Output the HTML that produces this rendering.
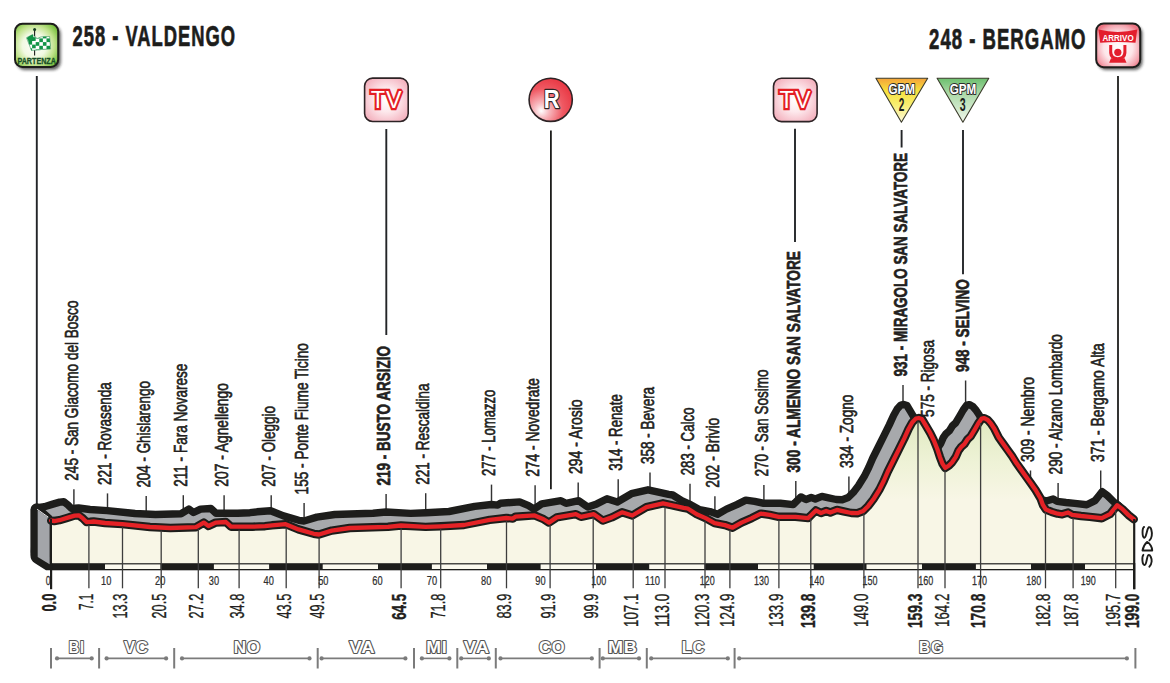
<!DOCTYPE html><html><head><meta charset="utf-8"><style>html,body{margin:0;padding:0;background:#fff;width:1170px;height:683px;overflow:hidden}svg{display:block}text{font-family:"Liberation Sans",sans-serif}</style></head><body>
<svg width="1170" height="683" viewBox="0 0 1170 683">
<defs><linearGradient id="frontg" gradientUnits="userSpaceOnUse" x1="0" y1="415" x2="0" y2="500"><stop offset="0" stop-color="#dfe9bf"/><stop offset="0.55" stop-color="#eef2d6"/><stop offset="1" stop-color="#f8f6e6"/></linearGradient><radialGradient id="greeng" cx="0.45" cy="0.5" r="0.62"><stop offset="0" stop-color="#ffffff"/><stop offset="0.45" stop-color="#f1f9e2"/><stop offset="0.75" stop-color="#bfe28a"/><stop offset="1" stop-color="#7cc242"/></radialGradient><radialGradient id="redbox" cx="0.5" cy="0.55" r="0.6"><stop offset="0" stop-color="#ffffff"/><stop offset="0.55" stop-color="#fde6e9"/><stop offset="0.85" stop-color="#f4a5b0"/><stop offset="1" stop-color="#ec7583"/></radialGradient><radialGradient id="tvg" cx="0.5" cy="0.5" r="0.62"><stop offset="0" stop-color="#ffffff"/><stop offset="0.45" stop-color="#fde8ec"/><stop offset="1" stop-color="#f3aebb"/></radialGradient><radialGradient id="rg" cx="0.32" cy="0.7" r="0.8" fx="0.28" fy="0.76"><stop offset="0" stop-color="#ffffff"/><stop offset="0.22" stop-color="#f8b9bf"/><stop offset="0.6" stop-color="#ef5963"/><stop offset="1" stop-color="#e8323e"/></radialGradient><linearGradient id="gpm2" x1="0" y1="0" x2="0" y2="1"><stop offset="0" stop-color="#f4a23a"/><stop offset="0.28" stop-color="#f6e03c"/><stop offset="0.6" stop-color="#f8ee70"/><stop offset="1" stop-color="#fcf8da"/></linearGradient><linearGradient id="gpm3" x1="0" y1="0" x2="0" y2="1"><stop offset="0" stop-color="#6cbf6e"/><stop offset="0.35" stop-color="#acd9a8"/><stop offset="1" stop-color="#f0f7ec"/></linearGradient><filter id="shd" x="-30%" y="-30%" width="160%" height="160%"><feGaussianBlur stdDeviation="1.6"/></filter></defs>
<text transform="translate(72.50,45.90) scale(0.6167,1)" font-size="29.8" font-weight="bold" fill="#1d1d1b" letter-spacing="1.6" stroke="#1d1d1b" stroke-width="0.7" stroke-linejoin="round">258 - VALDENGO</text>
<text transform="translate(929.10,48.90) scale(0.6231,1)" font-size="29.8" font-weight="bold" fill="#1d1d1b" letter-spacing="1.6" stroke="#1d1d1b" stroke-width="0.7" stroke-linejoin="round">248 - BERGAMO</text>
<line x1="36.8" y1="76" x2="36.8" y2="506" stroke="#232528" stroke-width="1.9"/>
<line x1="386.3" y1="129" x2="386.3" y2="335" stroke="#232528" stroke-width="1.9"/>
<line x1="550.9" y1="130.5" x2="550.9" y2="489.2" stroke="#1d1d1b" stroke-width="1.8"/>
<line x1="795.0" y1="128.7" x2="795.0" y2="242" stroke="#232528" stroke-width="1.9"/>
<line x1="901.6" y1="130" x2="901.6" y2="147.5" stroke="#232528" stroke-width="1.9"/>
<line x1="963.0" y1="130" x2="963.0" y2="274.2" stroke="#232528" stroke-width="1.9"/>
<line x1="1118.0" y1="76" x2="1118.0" y2="503" stroke="#1d1d1b" stroke-width="1.8"/>
<text transform="translate(77.50,480.70) rotate(-90) scale(0.7372,1)" font-size="18.4" font-weight="normal" fill="#231f20" stroke="#231f20" stroke-width="0.65">245 - San Giacomo del Bosco</text>
<line x1="73.9" y1="489.2" x2="73.9" y2="520.7" stroke="#333333" stroke-width="1.45"/>
<text transform="translate(111.10,484.90) rotate(-90) scale(0.7335,1)" font-size="18.4" font-weight="normal" fill="#231f20" stroke="#231f20" stroke-width="0.65">221 - Rovasenda</text>
<line x1="107.5" y1="493.4" x2="107.5" y2="524.9" stroke="#333333" stroke-width="1.45"/>
<text transform="translate(149.80,487.60) rotate(-90) scale(0.7288,1)" font-size="18.4" font-weight="normal" fill="#231f20" stroke="#231f20" stroke-width="0.65">204 - Ghislarengo</text>
<line x1="146.2" y1="496.1" x2="146.2" y2="527.6" stroke="#333333" stroke-width="1.45"/>
<text transform="translate(186.90,486.70) rotate(-90) scale(0.7354,1)" font-size="18.4" font-weight="normal" fill="#231f20" stroke="#231f20" stroke-width="0.65">211 - Fara Novarese</text>
<line x1="183.3" y1="495.2" x2="183.3" y2="526.7" stroke="#333333" stroke-width="1.45"/>
<text transform="translate(227.70,486.70) rotate(-90) scale(0.7501,1)" font-size="18.4" font-weight="normal" fill="#231f20" stroke="#231f20" stroke-width="0.65">207 - Agnellengo</text>
<line x1="224.1" y1="495.2" x2="224.1" y2="526.7" stroke="#333333" stroke-width="1.45"/>
<text transform="translate(274.80,486.70) rotate(-90) scale(0.7305,1)" font-size="18.4" font-weight="normal" fill="#231f20" stroke="#231f20" stroke-width="0.65">207 - Oleggio</text>
<line x1="271.2" y1="495.2" x2="271.2" y2="526.7" stroke="#333333" stroke-width="1.45"/>
<text transform="translate(307.70,494.40) rotate(-90) scale(0.7397,1)" font-size="18.4" font-weight="normal" fill="#231f20" stroke="#231f20" stroke-width="0.65">155 - Ponte Fiume Ticino</text>
<line x1="304.1" y1="502.9" x2="304.1" y2="534.4" stroke="#333333" stroke-width="1.45"/>
<text transform="translate(389.80,485.40) rotate(-90) scale(0.7175,1)" font-size="18.8" font-weight="bold" fill="#231f20" stroke="#231f20" stroke-width="0.65">219 - BUSTO ARSIZIO</text>
<line x1="386.1" y1="493.9" x2="386.1" y2="525.4" stroke="#333333" stroke-width="1.45"/>
<text transform="translate(429.30,484.70) rotate(-90) scale(0.7328,1)" font-size="18.4" font-weight="normal" fill="#231f20" stroke="#231f20" stroke-width="0.65">221 - Rescaldina</text>
<line x1="425.7" y1="493.2" x2="425.7" y2="524.7" stroke="#333333" stroke-width="1.45"/>
<text transform="translate(495.10,476.10) rotate(-90) scale(0.7098,1)" font-size="18.4" font-weight="normal" fill="#231f20" stroke="#231f20" stroke-width="0.65">277 - Lomazzo</text>
<line x1="491.5" y1="484.6" x2="491.5" y2="516.1" stroke="#333333" stroke-width="1.45"/>
<text transform="translate(538.70,476.70) rotate(-90) scale(0.7480,1)" font-size="18.4" font-weight="normal" fill="#231f20" stroke="#231f20" stroke-width="0.65">274 - Novedrate</text>
<line x1="535.1" y1="485.2" x2="535.1" y2="516.7" stroke="#333333" stroke-width="1.45"/>
<text transform="translate(581.80,474.00) rotate(-90) scale(0.7608,1)" font-size="18.4" font-weight="normal" fill="#231f20" stroke="#231f20" stroke-width="0.65">294 - Arosio</text>
<line x1="578.2" y1="482.5" x2="578.2" y2="514.0" stroke="#333333" stroke-width="1.45"/>
<text transform="translate(621.80,470.80) rotate(-90) scale(0.7209,1)" font-size="18.4" font-weight="normal" fill="#231f20" stroke="#231f20" stroke-width="0.65">314 - Renate</text>
<line x1="618.2" y1="479.3" x2="618.2" y2="510.8" stroke="#333333" stroke-width="1.45"/>
<text transform="translate(653.60,464.00) rotate(-90) scale(0.7318,1)" font-size="18.4" font-weight="normal" fill="#231f20" stroke="#231f20" stroke-width="0.65">358 - Bevera</text>
<line x1="650.0" y1="472.5" x2="650.0" y2="504.0" stroke="#333333" stroke-width="1.45"/>
<text transform="translate(693.60,475.30) rotate(-90) scale(0.7216,1)" font-size="18.4" font-weight="normal" fill="#231f20" stroke="#231f20" stroke-width="0.65">283 - Calco</text>
<line x1="690.0" y1="483.8" x2="690.0" y2="515.3" stroke="#333333" stroke-width="1.45"/>
<text transform="translate(718.50,487.80) rotate(-90) scale(0.7532,1)" font-size="18.4" font-weight="normal" fill="#231f20" stroke="#231f20" stroke-width="0.65">202 - Brivio</text>
<line x1="714.9" y1="496.3" x2="714.9" y2="527.8" stroke="#333333" stroke-width="1.45"/>
<text transform="translate(767.50,476.60) rotate(-90) scale(0.7316,1)" font-size="18.4" font-weight="normal" fill="#231f20" stroke="#231f20" stroke-width="0.65">270 - San Sosimo</text>
<line x1="763.9" y1="485.1" x2="763.9" y2="516.6" stroke="#333333" stroke-width="1.45"/>
<text transform="translate(799.50,472.50) rotate(-90) scale(0.7290,1)" font-size="18.8" font-weight="bold" fill="#231f20" stroke="#231f20" stroke-width="0.65">300 - ALMENNO SAN SALVATORE</text>
<line x1="795.8" y1="481.0" x2="795.8" y2="512.5" stroke="#333333" stroke-width="1.45"/>
<text transform="translate(852.50,468.10) rotate(-90) scale(0.7407,1)" font-size="18.4" font-weight="normal" fill="#231f20" stroke="#231f20" stroke-width="0.65">334 - Zogno</text>
<line x1="848.9" y1="476.6" x2="848.9" y2="508.1" stroke="#333333" stroke-width="1.45"/>
<text transform="translate(906.70,376.40) rotate(-90) scale(0.7137,1)" font-size="18.8" font-weight="bold" fill="#231f20" stroke="#231f20" stroke-width="0.65">931 - MIRAGOLO SAN SALVATORE</text>
<line x1="903.0" y1="384.9" x2="903.0" y2="416.4" stroke="#333333" stroke-width="1.45"/>
<text transform="translate(933.60,416.90) rotate(-90) scale(0.7370,1)" font-size="18.4" font-weight="normal" fill="#231f20" stroke="#231f20" stroke-width="0.65">575 - Rigosa</text>
<text transform="translate(969.30,372.00) rotate(-90) scale(0.7174,1)" font-size="18.8" font-weight="bold" fill="#231f20" stroke="#231f20" stroke-width="0.65">948 - SELVINO</text>
<line x1="965.6" y1="380.5" x2="965.6" y2="412.0" stroke="#333333" stroke-width="1.45"/>
<text transform="translate(1034.10,462.00) rotate(-90) scale(0.7556,1)" font-size="18.4" font-weight="normal" fill="#231f20" stroke="#231f20" stroke-width="0.65">309 - Nembro</text>
<line x1="1030.5" y1="470.5" x2="1030.5" y2="502.0" stroke="#333333" stroke-width="1.45"/>
<text transform="translate(1061.70,474.40) rotate(-90) scale(0.7380,1)" font-size="18.4" font-weight="normal" fill="#231f20" stroke="#231f20" stroke-width="0.65">290 - Alzano Lombardo</text>
<line x1="1058.1" y1="482.9" x2="1058.1" y2="514.4" stroke="#333333" stroke-width="1.45"/>
<text transform="translate(1104.30,462.00) rotate(-90) scale(0.7542,1)" font-size="18.4" font-weight="normal" fill="#231f20" stroke="#231f20" stroke-width="0.65">371 - Bergamo Alta</text>
<line x1="1100.7" y1="470.5" x2="1100.7" y2="502.0" stroke="#333333" stroke-width="1.45"/>
<polygon points="36.2,507.1 39.2,507.5 44.4,506.7 52.0,504.4 59.7,502.1 63.8,501.8 67.9,504.9 71.5,508.5 75.1,508.3 78.6,508.0 90.0,509.5 107.3,510.6 135.0,513.5 155.5,514.5 181.0,513.7 188.8,509.1 193.5,512.5 200.6,509.1 210.9,508.5 216.0,513.2 237.6,513.2 250.0,512.7 257.0,511.8 270.6,510.7 283.5,515.9 298.8,520.3 304.0,521.0 316.8,517.1 334.7,514.5 373.0,513.3 386.0,512.0 410.6,513.4 426.0,512.8 449.0,511.5 474.7,506.4 491.4,504.5 497.8,505.1 500.4,503.2 519.6,501.9 528.6,505.7 534.0,509.1 541.7,503.9 560.9,500.7 566.0,503.3 578.8,500.7 587.8,507.1 596.8,503.9 607.0,498.8 617.3,502.0 631.4,493.7 648.0,489.8 659.6,492.4 668.6,494.3 672.7,495.0 681.7,500.7 690.6,504.6 699.6,509.7 709.9,511.6 717.6,514.2 726.5,509.1 736.8,504.6 745.8,500.1 754.7,501.4 763.7,503.3 780.4,503.3 793.2,504.6 800.9,496.9 806.0,499.5 811.2,497.5 815.3,499.0 821.9,496.4 828.6,497.9 836.3,499.5 842.3,499.7 848.2,497.5 853.3,492.4 858.4,485.8 864.3,476.3 868.7,467.5 872.8,458.0 878.8,446.0 884.1,435.4 889.3,424.9 893.7,415.2 897.2,409.0 900.8,405.1 903.8,404.5 906.9,405.5 910.6,411.7 915.3,419.7 918.8,426.7 922.3,435.5 924.9,443.4 927.6,450.4 930.2,454.4 933.7,452.2 937.2,448.7 940.8,443.4 943.4,437.3 946.0,433.7 949.4,430.7 952.5,425.8 955.8,422.7 959.7,416.1 963.2,410.0 966.7,405.1 969.3,404.6 972.8,406.5 975.9,410.0 979.4,415.3 983.8,424.1 988.2,430.2 992.6,436.4 997.0,442.5 1001.4,449.6 1005.8,455.7 1010.2,461.9 1015.5,469.3 1020.6,476.5 1025.6,485.0 1027.9,491.4 1030.9,496.1 1036.7,498.4 1042.6,500.2 1047.2,500.8 1053.1,499.0 1057.2,501.4 1066.0,502.5 1074.8,503.4 1086.8,504.7 1095.0,500.6 1099.1,495.5 1102.2,491.7 1107.3,495.5 1113.5,501.6 1118.8,505.7 1118.8,552.0 34.5,552.0" fill="#a7a9ac" stroke="#1d1d1b" stroke-width="7.4" stroke-linejoin="round"/>
<path d="M38,503.4 Q30.4,503.4 30.4,510 L30.4,555 Q30.4,560.5 35,563.2 L46,570.3 L52,570.3 L52,516 Z" fill="#1d1d1b"/>
<polygon points="37.7,510.2 49.6,518.6 49.6,564.2 37.7,557" fill="#a3a5a9"/>
<line x1="37.2" y1="509.3" x2="48.5" y2="517.3" stroke="#e8e8ea" stroke-width="1"/>
<polygon points="51.2,520.6 54.2,521.0 59.4,520.2 67.0,517.9 74.7,515.6 78.8,515.3 82.9,518.4 86.5,522.0 90.1,521.8 93.6,521.5 105.0,523.0 122.3,524.1 150.0,527.0 170.5,528.0 196.0,527.2 203.8,522.6 208.5,526.0 215.6,522.6 225.9,522.0 231.0,526.7 252.6,526.7 265.0,526.2 272.0,525.3 285.6,524.2 298.5,529.4 313.8,533.8 319.0,534.5 331.8,530.6 349.7,528.0 388.0,526.8 401.0,525.5 425.6,526.9 441.0,526.3 464.0,525.0 489.7,519.9 506.4,518.0 512.8,518.6 515.4,516.7 534.6,515.4 543.6,519.2 549.0,522.6 556.7,517.4 575.9,514.2 581.0,516.8 593.8,514.2 602.8,520.6 611.8,517.4 622.0,512.3 632.3,515.5 646.4,507.2 663.0,503.3 674.6,505.9 683.6,507.8 687.7,508.5 696.7,514.2 705.6,518.1 714.6,523.2 724.9,525.1 732.6,527.7 741.5,522.6 751.8,518.1 760.8,513.6 769.7,514.9 778.7,516.8 795.4,516.8 808.2,518.1 815.9,510.4 821.0,513.0 826.2,511.0 830.3,512.5 836.9,509.9 843.6,511.4 851.3,513.0 857.3,513.2 863.2,511.0 868.3,505.9 873.4,499.3 879.3,489.8 883.7,481.0 887.8,471.5 893.8,459.5 899.1,448.9 904.3,438.4 908.7,428.7 912.2,422.5 915.8,418.6 918.8,418.0 921.9,419.0 925.6,425.2 930.3,433.2 933.8,440.2 937.3,449.0 939.9,456.9 942.6,463.9 945.2,467.9 948.7,465.7 952.2,462.2 955.8,456.9 958.4,450.8 961.0,447.2 964.4,444.2 967.5,439.3 970.8,436.2 974.7,429.6 978.2,423.5 981.7,418.6 984.3,418.1 987.8,420.0 990.9,423.5 994.4,428.8 998.8,437.6 1003.2,443.7 1007.6,449.9 1012.0,456.0 1016.4,463.1 1020.8,469.2 1025.2,475.4 1030.5,482.8 1035.6,490.0 1040.6,498.5 1042.9,504.9 1045.9,509.6 1051.7,511.9 1057.6,513.7 1062.2,514.3 1068.1,512.5 1072.2,514.9 1081.0,516.0 1089.8,516.9 1101.8,518.2 1110.0,514.1 1114.1,509.0 1117.2,505.2 1122.3,509.0 1128.5,515.1 1133.8,519.2 1133.8,563.5 50.5,563.5" fill="url(#frontg)"/>
<polyline points="51.2,520.6 54.2,521.0 59.4,520.2 67.0,517.9 74.7,515.6 78.8,515.3 82.9,518.4 86.5,522.0 90.1,521.8 93.6,521.5 105.0,523.0 122.3,524.1 150.0,527.0 170.5,528.0 196.0,527.2 203.8,522.6 208.5,526.0 215.6,522.6 225.9,522.0 231.0,526.7 252.6,526.7 265.0,526.2 272.0,525.3 285.6,524.2 298.5,529.4 313.8,533.8 319.0,534.5 331.8,530.6 349.7,528.0 388.0,526.8 401.0,525.5 425.6,526.9 441.0,526.3 464.0,525.0 489.7,519.9 506.4,518.0 512.8,518.6 515.4,516.7 534.6,515.4 543.6,519.2 549.0,522.6 556.7,517.4 575.9,514.2 581.0,516.8 593.8,514.2 602.8,520.6 611.8,517.4 622.0,512.3 632.3,515.5 646.4,507.2 663.0,503.3 674.6,505.9 683.6,507.8 687.7,508.5 696.7,514.2 705.6,518.1 714.6,523.2 724.9,525.1 732.6,527.7 741.5,522.6 751.8,518.1 760.8,513.6 769.7,514.9 778.7,516.8 795.4,516.8 808.2,518.1 815.9,510.4 821.0,513.0 826.2,511.0 830.3,512.5 836.9,509.9 843.6,511.4 851.3,513.0 857.3,513.2 863.2,511.0 868.3,505.9 873.4,499.3 879.3,489.8 883.7,481.0 887.8,471.5 893.8,459.5 899.1,448.9 904.3,438.4 908.7,428.7 912.2,422.5 915.8,418.6 918.8,418.0 921.9,419.0 925.6,425.2 930.3,433.2 933.8,440.2 937.3,449.0 939.9,456.9 942.6,463.9 945.2,467.9 948.7,465.7 952.2,462.2 955.8,456.9 958.4,450.8 961.0,447.2 964.4,444.2 967.5,439.3 970.8,436.2 974.7,429.6 978.2,423.5 981.7,418.6 984.3,418.1 987.8,420.0 990.9,423.5 994.4,428.8 998.8,437.6 1003.2,443.7 1007.6,449.9 1012.0,456.0 1016.4,463.1 1020.8,469.2 1025.2,475.4 1030.5,482.8 1035.6,490.0 1040.6,498.5 1042.9,504.9 1045.9,509.6 1051.7,511.9 1057.6,513.7 1062.2,514.3 1068.1,512.5 1072.2,514.9 1081.0,516.0 1089.8,516.9 1101.8,518.2 1110.0,514.1 1114.1,509.0 1117.2,505.2 1122.3,509.0 1128.5,515.1 1133.8,519.2" fill="none" stroke="#1d1d1b" stroke-width="8.4" stroke-linejoin="round" stroke-linecap="round"/>
<polyline points="51.2,520.6 54.2,521.0 59.4,520.2 67.0,517.9 74.7,515.6 78.8,515.3 82.9,518.4 86.5,522.0 90.1,521.8 93.6,521.5 105.0,523.0 122.3,524.1 150.0,527.0 170.5,528.0 196.0,527.2 203.8,522.6 208.5,526.0 215.6,522.6 225.9,522.0 231.0,526.7 252.6,526.7 265.0,526.2 272.0,525.3 285.6,524.2 298.5,529.4 313.8,533.8 319.0,534.5 331.8,530.6 349.7,528.0 388.0,526.8 401.0,525.5 425.6,526.9 441.0,526.3 464.0,525.0 489.7,519.9 506.4,518.0 512.8,518.6 515.4,516.7 534.6,515.4 543.6,519.2 549.0,522.6 556.7,517.4 575.9,514.2 581.0,516.8 593.8,514.2 602.8,520.6 611.8,517.4 622.0,512.3 632.3,515.5 646.4,507.2 663.0,503.3 674.6,505.9 683.6,507.8 687.7,508.5 696.7,514.2 705.6,518.1 714.6,523.2 724.9,525.1 732.6,527.7 741.5,522.6 751.8,518.1 760.8,513.6 769.7,514.9 778.7,516.8 795.4,516.8 808.2,518.1 815.9,510.4 821.0,513.0 826.2,511.0 830.3,512.5 836.9,509.9 843.6,511.4 851.3,513.0 857.3,513.2 863.2,511.0 868.3,505.9 873.4,499.3 879.3,489.8 883.7,481.0 887.8,471.5 893.8,459.5 899.1,448.9 904.3,438.4 908.7,428.7 912.2,422.5 915.8,418.6 918.8,418.0 921.9,419.0 925.6,425.2 930.3,433.2 933.8,440.2 937.3,449.0 939.9,456.9 942.6,463.9 945.2,467.9 948.7,465.7 952.2,462.2 955.8,456.9 958.4,450.8 961.0,447.2 964.4,444.2 967.5,439.3 970.8,436.2 974.7,429.6 978.2,423.5 981.7,418.6 984.3,418.1 987.8,420.0 990.9,423.5 994.4,428.8 998.8,437.6 1003.2,443.7 1007.6,449.9 1012.0,456.0 1016.4,463.1 1020.8,469.2 1025.2,475.4 1030.5,482.8 1035.6,490.0 1040.6,498.5 1042.9,504.9 1045.9,509.6 1051.7,511.9 1057.6,513.7 1062.2,514.3 1068.1,512.5 1072.2,514.9 1081.0,516.0 1089.8,516.9 1101.8,518.2 1110.0,514.1 1114.1,509.0 1117.2,505.2 1122.3,509.0 1128.5,515.1 1133.8,519.2" fill="none" stroke="#e42226" stroke-width="4.3" stroke-linejoin="round" stroke-linecap="round"/>
<line x1="51" y1="519" x2="51" y2="570" stroke="#1d1d1b" stroke-width="2"/>
<rect x="50" y="563.2" width="1084.2" height="7.1" fill="#1d1d1b"/>
<rect x="105.0" y="564.4" width="55.5" height="4.6" fill="#fbf9ee"/>
<rect x="213.9" y="564.4" width="55.2" height="4.6" fill="#fbf9ee"/>
<rect x="322.7" y="564.4" width="55.3" height="4.6" fill="#fbf9ee"/>
<rect x="431.9" y="564.4" width="55.1" height="4.6" fill="#fbf9ee"/>
<rect x="540.6" y="564.4" width="55.4" height="4.6" fill="#fbf9ee"/>
<rect x="649.2" y="564.4" width="55.3" height="4.6" fill="#fbf9ee"/>
<rect x="758.0" y="564.4" width="55.7" height="4.6" fill="#fbf9ee"/>
<rect x="866.5" y="564.4" width="55.5" height="4.6" fill="#fbf9ee"/>
<rect x="975.9" y="564.4" width="55.1" height="4.6" fill="#fbf9ee"/>
<rect x="1085.0" y="564.4" width="48.0" height="4.6" fill="#fbf9ee"/>
<line x1="88.9" y1="524.9" x2="88.9" y2="588.3" stroke="#3d3d3d" stroke-width="1.3"/>
<line x1="122.5" y1="527.1" x2="122.5" y2="588.3" stroke="#3d3d3d" stroke-width="1.3"/>
<line x1="161.2" y1="530.5" x2="161.2" y2="588.3" stroke="#3d3d3d" stroke-width="1.3"/>
<line x1="198.3" y1="528.8" x2="198.3" y2="588.3" stroke="#3d3d3d" stroke-width="1.3"/>
<line x1="239.1" y1="529.7" x2="239.1" y2="588.3" stroke="#3d3d3d" stroke-width="1.3"/>
<line x1="286.2" y1="527.4" x2="286.2" y2="588.3" stroke="#3d3d3d" stroke-width="1.3"/>
<line x1="319.1" y1="537.5" x2="319.1" y2="588.3" stroke="#3d3d3d" stroke-width="1.3"/>
<line x1="401.1" y1="528.5" x2="401.1" y2="588.3" stroke="#3d3d3d" stroke-width="1.3"/>
<line x1="440.7" y1="529.3" x2="440.7" y2="588.3" stroke="#3d3d3d" stroke-width="1.3"/>
<line x1="506.5" y1="521.0" x2="506.5" y2="588.3" stroke="#3d3d3d" stroke-width="1.3"/>
<line x1="550.1" y1="524.9" x2="550.1" y2="588.3" stroke="#3d3d3d" stroke-width="1.3"/>
<line x1="593.2" y1="517.3" x2="593.2" y2="588.3" stroke="#3d3d3d" stroke-width="1.3"/>
<line x1="633.2" y1="518.0" x2="633.2" y2="588.3" stroke="#3d3d3d" stroke-width="1.3"/>
<line x1="665.0" y1="506.7" x2="665.0" y2="588.3" stroke="#3d3d3d" stroke-width="1.3"/>
<line x1="705.0" y1="520.8" x2="705.0" y2="588.3" stroke="#3d3d3d" stroke-width="1.3"/>
<line x1="729.9" y1="529.8" x2="729.9" y2="588.3" stroke="#3d3d3d" stroke-width="1.3"/>
<line x1="778.9" y1="519.8" x2="778.9" y2="588.3" stroke="#3d3d3d" stroke-width="1.3"/>
<line x1="810.8" y1="518.5" x2="810.8" y2="588.3" stroke="#3d3d3d" stroke-width="1.3"/>
<line x1="863.9" y1="513.3" x2="863.9" y2="588.3" stroke="#3d3d3d" stroke-width="1.3"/>
<line x1="918.0" y1="421.2" x2="918.0" y2="588.3" stroke="#3d3d3d" stroke-width="1.3"/>
<line x1="945.0" y1="470.6" x2="945.0" y2="588.3" stroke="#3d3d3d" stroke-width="1.3"/>
<line x1="980.6" y1="423.1" x2="980.6" y2="588.3" stroke="#3d3d3d" stroke-width="1.3"/>
<line x1="1045.5" y1="512.0" x2="1045.5" y2="588.3" stroke="#3d3d3d" stroke-width="1.3"/>
<line x1="1073.1" y1="518.0" x2="1073.1" y2="588.3" stroke="#3d3d3d" stroke-width="1.3"/>
<line x1="1115.7" y1="510.0" x2="1115.7" y2="588.3" stroke="#3d3d3d" stroke-width="1.3"/>
<text transform="translate(45.80,584.90) scale(0.6540,1)" font-size="13.2" font-weight="normal" fill="#2e2e2e" stroke="#2e2e2e" stroke-width="0.25">0</text>
<text transform="translate(101.10,584.90) scale(0.7017,1)" font-size="13.2" font-weight="normal" fill="#2e2e2e" stroke="#2e2e2e" stroke-width="0.25">10</text>
<text transform="translate(155.00,584.90) scale(0.7017,1)" font-size="13.2" font-weight="normal" fill="#2e2e2e" stroke="#2e2e2e" stroke-width="0.25">20</text>
<text transform="translate(208.80,584.90) scale(0.7017,1)" font-size="13.2" font-weight="normal" fill="#2e2e2e" stroke="#2e2e2e" stroke-width="0.25">30</text>
<text transform="translate(263.50,584.90) scale(0.7017,1)" font-size="13.2" font-weight="normal" fill="#2e2e2e" stroke="#2e2e2e" stroke-width="0.25">40</text>
<text transform="translate(318.20,584.90) scale(0.7017,1)" font-size="13.2" font-weight="normal" fill="#2e2e2e" stroke="#2e2e2e" stroke-width="0.25">50</text>
<text transform="translate(372.30,584.90) scale(0.7017,1)" font-size="13.2" font-weight="normal" fill="#2e2e2e" stroke="#2e2e2e" stroke-width="0.25">60</text>
<text transform="translate(426.80,584.90) scale(0.7017,1)" font-size="13.2" font-weight="normal" fill="#2e2e2e" stroke="#2e2e2e" stroke-width="0.25">70</text>
<text transform="translate(481.00,584.90) scale(0.7017,1)" font-size="13.2" font-weight="normal" fill="#2e2e2e" stroke="#2e2e2e" stroke-width="0.25">80</text>
<text transform="translate(535.30,584.90) scale(0.7017,1)" font-size="13.2" font-weight="normal" fill="#2e2e2e" stroke="#2e2e2e" stroke-width="0.25">90</text>
<text transform="translate(591.30,584.90) scale(0.6813,1)" font-size="13.2" font-weight="normal" fill="#2e2e2e" stroke="#2e2e2e" stroke-width="0.25">100</text>
<text transform="translate(645.10,584.90) scale(0.7129,1)" font-size="13.2" font-weight="normal" fill="#2e2e2e" stroke="#2e2e2e" stroke-width="0.25">110</text>
<text transform="translate(699.80,584.90) scale(0.6813,1)" font-size="13.2" font-weight="normal" fill="#2e2e2e" stroke="#2e2e2e" stroke-width="0.25">120</text>
<text transform="translate(754.10,584.90) scale(0.6813,1)" font-size="13.2" font-weight="normal" fill="#2e2e2e" stroke="#2e2e2e" stroke-width="0.25">130</text>
<text transform="translate(809.20,584.90) scale(0.6813,1)" font-size="13.2" font-weight="normal" fill="#2e2e2e" stroke="#2e2e2e" stroke-width="0.25">140</text>
<text transform="translate(862.60,584.90) scale(0.6813,1)" font-size="13.2" font-weight="normal" fill="#2e2e2e" stroke="#2e2e2e" stroke-width="0.25">150</text>
<text transform="translate(918.20,584.90) scale(0.6813,1)" font-size="13.2" font-weight="normal" fill="#2e2e2e" stroke="#2e2e2e" stroke-width="0.25">160</text>
<text transform="translate(972.00,584.90) scale(0.6813,1)" font-size="13.2" font-weight="normal" fill="#2e2e2e" stroke="#2e2e2e" stroke-width="0.25">170</text>
<text transform="translate(1026.30,584.90) scale(0.6813,1)" font-size="13.2" font-weight="normal" fill="#2e2e2e" stroke="#2e2e2e" stroke-width="0.25">180</text>
<text transform="translate(1080.80,584.90) scale(0.6813,1)" font-size="13.2" font-weight="normal" fill="#2e2e2e" stroke="#2e2e2e" stroke-width="0.25">190</text>
<line x1="51.1" y1="563" x2="51.1" y2="589.2" stroke="#1d1d1b" stroke-width="2.2"/>
<text transform="translate(55.50,611.60) rotate(-90) scale(0.6504,1)" font-size="19.8" font-weight="bold" fill="#231f20" stroke="#231f20" stroke-width="0.35">0.0</text>
<text transform="translate(93.30,610.10) rotate(-90) scale(0.5959,1)" font-size="19.8" font-weight="normal" fill="#231f20" stroke="#231f20" stroke-width="0.35">7.1</text>
<text transform="translate(126.90,618.55) rotate(-90) scale(0.6449,1)" font-size="19.8" font-weight="normal" fill="#231f20" stroke="#231f20" stroke-width="0.35">13.3</text>
<text transform="translate(165.60,618.55) rotate(-90) scale(0.6449,1)" font-size="19.8" font-weight="normal" fill="#231f20" stroke="#231f20" stroke-width="0.35">20.5</text>
<text transform="translate(202.70,618.55) rotate(-90) scale(0.6449,1)" font-size="19.8" font-weight="normal" fill="#231f20" stroke="#231f20" stroke-width="0.35">27.2</text>
<text transform="translate(243.50,618.55) rotate(-90) scale(0.6449,1)" font-size="19.8" font-weight="normal" fill="#231f20" stroke="#231f20" stroke-width="0.35">34.8</text>
<text transform="translate(290.60,618.55) rotate(-90) scale(0.6449,1)" font-size="19.8" font-weight="normal" fill="#231f20" stroke="#231f20" stroke-width="0.35">43.5</text>
<text transform="translate(323.50,618.55) rotate(-90) scale(0.6449,1)" font-size="19.8" font-weight="normal" fill="#231f20" stroke="#231f20" stroke-width="0.35">49.5</text>
<text transform="translate(405.50,619.85) rotate(-90) scale(0.6787,1)" font-size="19.8" font-weight="bold" fill="#231f20" stroke="#231f20" stroke-width="0.35">64.5</text>
<text transform="translate(445.10,618.55) rotate(-90) scale(0.6449,1)" font-size="19.8" font-weight="normal" fill="#231f20" stroke="#231f20" stroke-width="0.35">71.8</text>
<text transform="translate(510.90,618.55) rotate(-90) scale(0.6449,1)" font-size="19.8" font-weight="normal" fill="#231f20" stroke="#231f20" stroke-width="0.35">83.9</text>
<text transform="translate(554.50,618.55) rotate(-90) scale(0.6449,1)" font-size="19.8" font-weight="normal" fill="#231f20" stroke="#231f20" stroke-width="0.35">91.9</text>
<text transform="translate(597.60,618.55) rotate(-90) scale(0.6449,1)" font-size="19.8" font-weight="normal" fill="#231f20" stroke="#231f20" stroke-width="0.35">99.9</text>
<text transform="translate(637.60,627.00) rotate(-90) scale(0.6722,1)" font-size="19.8" font-weight="normal" fill="#231f20" stroke="#231f20" stroke-width="0.35">107.1</text>
<text transform="translate(669.40,627.00) rotate(-90) scale(0.6927,1)" font-size="19.8" font-weight="normal" fill="#231f20" stroke="#231f20" stroke-width="0.35">113.0</text>
<text transform="translate(709.40,627.00) rotate(-90) scale(0.6722,1)" font-size="19.8" font-weight="normal" fill="#231f20" stroke="#231f20" stroke-width="0.35">120.3</text>
<text transform="translate(734.30,627.00) rotate(-90) scale(0.6722,1)" font-size="19.8" font-weight="normal" fill="#231f20" stroke="#231f20" stroke-width="0.35">124.9</text>
<text transform="translate(783.30,627.00) rotate(-90) scale(0.6722,1)" font-size="19.8" font-weight="normal" fill="#231f20" stroke="#231f20" stroke-width="0.35">133.9</text>
<text transform="translate(815.20,628.10) rotate(-90) scale(0.6944,1)" font-size="19.8" font-weight="bold" fill="#231f20" stroke="#231f20" stroke-width="0.35">139.8</text>
<text transform="translate(868.30,627.00) rotate(-90) scale(0.6722,1)" font-size="19.8" font-weight="normal" fill="#231f20" stroke="#231f20" stroke-width="0.35">149.0</text>
<text transform="translate(922.40,628.10) rotate(-90) scale(0.6944,1)" font-size="19.8" font-weight="bold" fill="#231f20" stroke="#231f20" stroke-width="0.35">159.3</text>
<text transform="translate(949.40,627.00) rotate(-90) scale(0.6722,1)" font-size="19.8" font-weight="normal" fill="#231f20" stroke="#231f20" stroke-width="0.35">164.2</text>
<text transform="translate(985.00,628.10) rotate(-90) scale(0.6944,1)" font-size="19.8" font-weight="bold" fill="#231f20" stroke="#231f20" stroke-width="0.35">170.8</text>
<text transform="translate(1049.90,627.00) rotate(-90) scale(0.6722,1)" font-size="19.8" font-weight="normal" fill="#231f20" stroke="#231f20" stroke-width="0.35">182.8</text>
<text transform="translate(1077.50,627.00) rotate(-90) scale(0.6722,1)" font-size="19.8" font-weight="normal" fill="#231f20" stroke="#231f20" stroke-width="0.35">187.8</text>
<text transform="translate(1120.10,627.00) rotate(-90) scale(0.6722,1)" font-size="19.8" font-weight="normal" fill="#231f20" stroke="#231f20" stroke-width="0.35">195.7</text>
<line x1="1134.2" y1="563" x2="1134.2" y2="589.2" stroke="#1d1d1b" stroke-width="2.2"/>
<text transform="translate(1138.60,628.10) rotate(-90) scale(0.6944,1)" font-size="19.8" font-weight="bold" fill="#231f20" stroke="#231f20" stroke-width="0.35">199.0</text>
<line x1="1134.2" y1="519" x2="1134.2" y2="589.2" stroke="#1d1d1b" stroke-width="2.2"/>
<line x1="51.0" y1="648" x2="51.0" y2="668.5" stroke="#7b7b7b" stroke-width="2"/>
<line x1="57.0" y1="658.4" x2="91.7" y2="658.4" stroke="#7b7b7b" stroke-width="1.6"/>
<circle cx="57.0" cy="658.4" r="2.1" fill="#7b7b7b"/><circle cx="91.7" cy="658.4" r="2.1" fill="#7b7b7b"/>
<text transform="translate(68.80,653.00) scale(0.8539,1)" font-size="17.0" font-weight="bold" fill="#ffffff" letter-spacing="0.8" stroke="#555555" stroke-width="2.2" paint-order="stroke" stroke-linejoin="round">BI</text>
<line x1="99.1" y1="648" x2="99.1" y2="668.5" stroke="#7b7b7b" stroke-width="2"/>
<line x1="106.6" y1="658.4" x2="166.1" y2="658.4" stroke="#7b7b7b" stroke-width="1.6"/>
<circle cx="106.6" cy="658.4" r="2.1" fill="#7b7b7b"/><circle cx="166.1" cy="658.4" r="2.1" fill="#7b7b7b"/>
<text transform="translate(123.90,653.00) scale(0.9872,1)" font-size="17.0" font-weight="bold" fill="#ffffff" letter-spacing="0.8" stroke="#555555" stroke-width="2.2" paint-order="stroke" stroke-linejoin="round">VC</text>
<line x1="174.2" y1="648" x2="174.2" y2="668.5" stroke="#7b7b7b" stroke-width="2"/>
<line x1="182.0" y1="658.4" x2="309.5" y2="658.4" stroke="#7b7b7b" stroke-width="1.6"/>
<circle cx="182.0" cy="658.4" r="2.1" fill="#7b7b7b"/><circle cx="309.5" cy="658.4" r="2.1" fill="#7b7b7b"/>
<text transform="translate(233.70,653.00) scale(1.0076,1)" font-size="17.0" font-weight="bold" fill="#ffffff" letter-spacing="0.8" stroke="#555555" stroke-width="2.2" paint-order="stroke" stroke-linejoin="round">NO</text>
<line x1="317.7" y1="648" x2="317.7" y2="668.5" stroke="#7b7b7b" stroke-width="2"/>
<line x1="321.6" y1="658.4" x2="405.4" y2="658.4" stroke="#7b7b7b" stroke-width="1.6"/>
<circle cx="321.6" cy="658.4" r="2.1" fill="#7b7b7b"/><circle cx="405.4" cy="658.4" r="2.1" fill="#7b7b7b"/>
<text transform="translate(349.30,653.00) scale(1.0883,1)" font-size="17.0" font-weight="bold" fill="#ffffff" letter-spacing="0.8" stroke="#555555" stroke-width="2.2" paint-order="stroke" stroke-linejoin="round">VA</text>
<line x1="414.0" y1="648" x2="414.0" y2="668.5" stroke="#7b7b7b" stroke-width="2"/>
<line x1="421.9" y1="658.4" x2="449.4" y2="658.4" stroke="#7b7b7b" stroke-width="1.6"/>
<circle cx="421.9" cy="658.4" r="2.1" fill="#7b7b7b"/><circle cx="449.4" cy="658.4" r="2.1" fill="#7b7b7b"/>
<text transform="translate(426.20,653.00) scale(1.0464,1)" font-size="17.0" font-weight="bold" fill="#ffffff" letter-spacing="0.8" stroke="#555555" stroke-width="2.2" paint-order="stroke" stroke-linejoin="round">MI</text>
<line x1="457.3" y1="648" x2="457.3" y2="668.5" stroke="#7b7b7b" stroke-width="2"/>
<line x1="461.2" y1="658.4" x2="488.8" y2="658.4" stroke="#7b7b7b" stroke-width="1.6"/>
<circle cx="461.2" cy="658.4" r="2.1" fill="#7b7b7b"/><circle cx="488.8" cy="658.4" r="2.1" fill="#7b7b7b"/>
<text transform="translate(463.80,653.00) scale(1.0883,1)" font-size="17.0" font-weight="bold" fill="#ffffff" letter-spacing="0.8" stroke="#555555" stroke-width="2.2" paint-order="stroke" stroke-linejoin="round">VA</text>
<line x1="495.8" y1="648" x2="495.8" y2="668.5" stroke="#7b7b7b" stroke-width="2"/>
<line x1="500.5" y1="658.4" x2="591.8" y2="658.4" stroke="#7b7b7b" stroke-width="1.6"/>
<circle cx="500.5" cy="658.4" r="2.1" fill="#7b7b7b"/><circle cx="591.8" cy="658.4" r="2.1" fill="#7b7b7b"/>
<text transform="translate(539.10,653.00) scale(0.9734,1)" font-size="17.0" font-weight="bold" fill="#ffffff" letter-spacing="0.8" stroke="#555555" stroke-width="2.2" paint-order="stroke" stroke-linejoin="round">CO</text>
<line x1="599.6" y1="648" x2="599.6" y2="668.5" stroke="#7b7b7b" stroke-width="2"/>
<line x1="602.8" y1="658.4" x2="639.0" y2="658.4" stroke="#7b7b7b" stroke-width="1.6"/>
<circle cx="602.8" cy="658.4" r="2.1" fill="#7b7b7b"/><circle cx="639.0" cy="658.4" r="2.1" fill="#7b7b7b"/>
<text transform="translate(607.90,653.00) scale(1.0648,1)" font-size="17.0" font-weight="bold" fill="#ffffff" letter-spacing="0.8" stroke="#555555" stroke-width="2.2" paint-order="stroke" stroke-linejoin="round">MB</text>
<line x1="646.8" y1="648" x2="646.8" y2="668.5" stroke="#7b7b7b" stroke-width="2"/>
<line x1="651.2" y1="658.4" x2="727.8" y2="658.4" stroke="#7b7b7b" stroke-width="1.6"/>
<circle cx="651.2" cy="658.4" r="2.1" fill="#7b7b7b"/><circle cx="727.8" cy="658.4" r="2.1" fill="#7b7b7b"/>
<text transform="translate(681.80,653.00) scale(0.9633,1)" font-size="17.0" font-weight="bold" fill="#ffffff" letter-spacing="0.8" stroke="#555555" stroke-width="2.2" paint-order="stroke" stroke-linejoin="round">LC</text>
<line x1="734.6" y1="648" x2="734.6" y2="668.5" stroke="#7b7b7b" stroke-width="2"/>
<line x1="739.2" y1="658.4" x2="1126.9" y2="658.4" stroke="#7b7b7b" stroke-width="1.6"/>
<circle cx="739.2" cy="658.4" r="2.1" fill="#7b7b7b"/><circle cx="1126.9" cy="658.4" r="2.1" fill="#7b7b7b"/>
<text transform="translate(919.10,653.00) scale(0.9125,1)" font-size="17.0" font-weight="bold" fill="#ffffff" letter-spacing="0.8" stroke="#555555" stroke-width="2.2" paint-order="stroke" stroke-linejoin="round">BG</text>
<line x1="1135.4" y1="648" x2="1135.4" y2="668.5" stroke="#7b7b7b" stroke-width="2"/>
<g transform="translate(1136,522) scale(0.07315)" fill="none" stroke="#1d1d1b" stroke-width="26" stroke-linecap="round" stroke-linejoin="round"><path d="M111,67 C82,85 82,205 113,215 C140,222 150,85 176,71 C205,60 224,140 215,190 C208,228 196,245 184,251"/><path d="M151,273 C120,300 98,345 89,389 L222,389 C222,350 195,295 151,273 Z"/><path d="M101,449 C80,470 80,585 119,588 C145,588 148,462 169,453 C195,445 218,500 214,540 C210,578 195,600 182,611"/></g>
<rect x="16.8" y="26" width="44" height="44" rx="8" fill="#1d1d1d" opacity="0.7" filter="url(#shd)"/>
<rect x="15" y="23.8" width="43.2" height="43.2" rx="7.5" fill="url(#greeng)" stroke="#1d1d1b" stroke-width="2"/>
<line x1="34.6" y1="30" x2="34.6" y2="55.5" stroke="#1d1d1b" stroke-width="1.1"/>
<circle cx="34.6" cy="29.6" r="1.5" fill="#163d22"/>
<clipPath id="flagc"><path d="M26.5,37.7 L32.8,34.4 L34.6,36.2 Q36,38.6 37.8,38.4 Q40,37 41.7,36.8 L49.6,36.5 L50.6,49 L41.7,49.4 Q39.5,50 37.5,50 L31.4,50.4 Z"/></clipPath>
<path d="M26.5,37.7 L32.8,34.4 L34.6,36.2 Q36,38.6 37.8,38.4 Q40,37 41.7,36.8 L49.6,36.5 L50.6,49 L41.7,49.4 Q39.5,50 37.5,50 L31.4,50.4 Z" fill="#ffffff" stroke="#0f7a3a" stroke-width="0.5"/>
<g clip-path="url(#flagc)"><rect x="28.5" y="33.5" width="3.6" height="3.7" fill="#129447"/><rect x="28.5" y="40.9" width="3.6" height="3.7" fill="#129447"/><rect x="28.5" y="48.3" width="3.6" height="3.7" fill="#129447"/><rect x="32.1" y="37.2" width="3.6" height="3.7" fill="#129447"/><rect x="32.1" y="44.6" width="3.6" height="3.7" fill="#129447"/><rect x="35.7" y="34.7" width="3.6" height="3.7" fill="#129447"/><rect x="35.7" y="42.1" width="3.6" height="3.7" fill="#129447"/><rect x="35.7" y="49.5" width="3.6" height="3.7" fill="#129447"/><rect x="39.3" y="38.4" width="3.6" height="3.7" fill="#129447"/><rect x="39.3" y="45.8" width="3.6" height="3.7" fill="#129447"/><rect x="42.9" y="34.7" width="3.6" height="3.7" fill="#129447"/><rect x="42.9" y="42.1" width="3.6" height="3.7" fill="#129447"/><rect x="42.9" y="49.5" width="3.6" height="3.7" fill="#129447"/><rect x="46.5" y="38.4" width="3.6" height="3.7" fill="#129447"/><rect x="46.5" y="45.8" width="3.6" height="3.7" fill="#129447"/><rect x="50.1" y="34.7" width="3.6" height="3.7" fill="#129447"/><rect x="50.1" y="42.1" width="3.6" height="3.7" fill="#129447"/><rect x="50.1" y="49.5" width="3.6" height="3.7" fill="#129447"/><path d="M26.5,37.7 L32.8,34.4 L34.3,40.5 L29,42 Z" fill="#129447"/></g>
<text transform="translate(17.40,63.60) scale(0.7987,1)" font-size="9.0" font-weight="bold" fill="#174f26" stroke="#174f26" stroke-width="0.3">PARTENZA</text>
<rect x="1098" y="25.6" width="44.5" height="44.5" rx="8" fill="#1d1d1d" opacity="0.7" filter="url(#shd)"/>
<rect x="1096.2" y="23.4" width="44" height="43.8" rx="7.5" fill="url(#redbox)" stroke="#1d1d1b" stroke-width="2"/>
<path d="M1098.5,29.6 Q1117.8,34.5 1137.2,29.6 L1135.5,42.8 Q1117.8,41.2 1100.2,42.8 Z" fill="#e31e2d"/>
<text transform="translate(1102.50,40.60) scale(0.8720,1)" font-size="9.2" font-weight="bold" fill="#ffffff" >ARRIVO</text>
<path d="M1109.2,45 L1112.2,45 L1112.2,52 Q1112.5,57.2 1117.8,57.2 Q1123.2,57.2 1123.4,52 L1123.4,45 L1126.4,45 L1126.4,53 Q1126,60 1117.8,60 Q1109.6,60 1109.2,53 Z" fill="#e31e2d"/>
<circle cx="1117.8" cy="52.3" r="3.6" fill="#e31e2d"/>
<path d="M1111,58.3 L1124.6,58.3 L1126.5,62.8 L1109.1,62.8 Z" fill="#e31e2d"/>
<rect x="364.6" y="78.1" width="43.6" height="43.4" rx="8" fill="url(#tvg)" stroke="#2d2325" stroke-width="1.6"/>
<text transform="translate(370.70,107.80) scale(0.9618,1)" font-size="24.2" font-weight="normal" fill="#ffffff" letter-spacing="1.2" stroke="#e31e24" stroke-width="4.4" paint-order="stroke" stroke-linejoin="miter" stroke-miterlimit="1.5">TV</text>
<rect x="773.5" y="78.2" width="43.6" height="43.4" rx="8" fill="url(#tvg)" stroke="#2d2325" stroke-width="1.6"/>
<text transform="translate(779.60,107.90) scale(0.9618,1)" font-size="24.2" font-weight="normal" fill="#ffffff" letter-spacing="1.2" stroke="#e31e24" stroke-width="4.4" paint-order="stroke" stroke-linejoin="miter" stroke-miterlimit="1.5">TV</text>
<circle cx="550.7" cy="99.8" r="21.6" fill="url(#rg)" stroke="#2d2325" stroke-width="1.6"/>
<text transform="translate(543.80,107.80) scale(0.8470,1)" font-size="26.0" font-weight="bold" fill="#ffffff" stroke="#2d2325" stroke-width="2.4" paint-order="stroke" stroke-linejoin="round">R</text>
<polygon points="875.9,78.2 927.7,78.2 901.4,122.2" fill="url(#gpm2)" stroke="#3b3b2b" stroke-width="1.1" stroke-linejoin="round"/>
<text transform="translate(888.50,93.90) scale(0.7533,1)" font-size="15.5" font-weight="bold" fill="#ffffff" stroke="#2d2d2d" stroke-width="2.2" paint-order="stroke" stroke-linejoin="round">GPM</text>
<text transform="translate(898.80,110.50) scale(0.5755,1)" font-size="17.5" font-weight="bold" fill="#1d1d1b" >2</text>
<polygon points="937.1,78.2 988.8,78.2 962.9,122.2" fill="url(#gpm3)" stroke="#3b3b2b" stroke-width="1.1" stroke-linejoin="round"/>
<text transform="translate(949.65,93.90) scale(0.7533,1)" font-size="15.5" font-weight="bold" fill="#ffffff" stroke="#2d2d2d" stroke-width="2.2" paint-order="stroke" stroke-linejoin="round">GPM</text>
<text transform="translate(959.70,110.50) scale(0.6064,1)" font-size="17.5" font-weight="bold" fill="#1d1d1b" >3</text>
</svg></body></html>
